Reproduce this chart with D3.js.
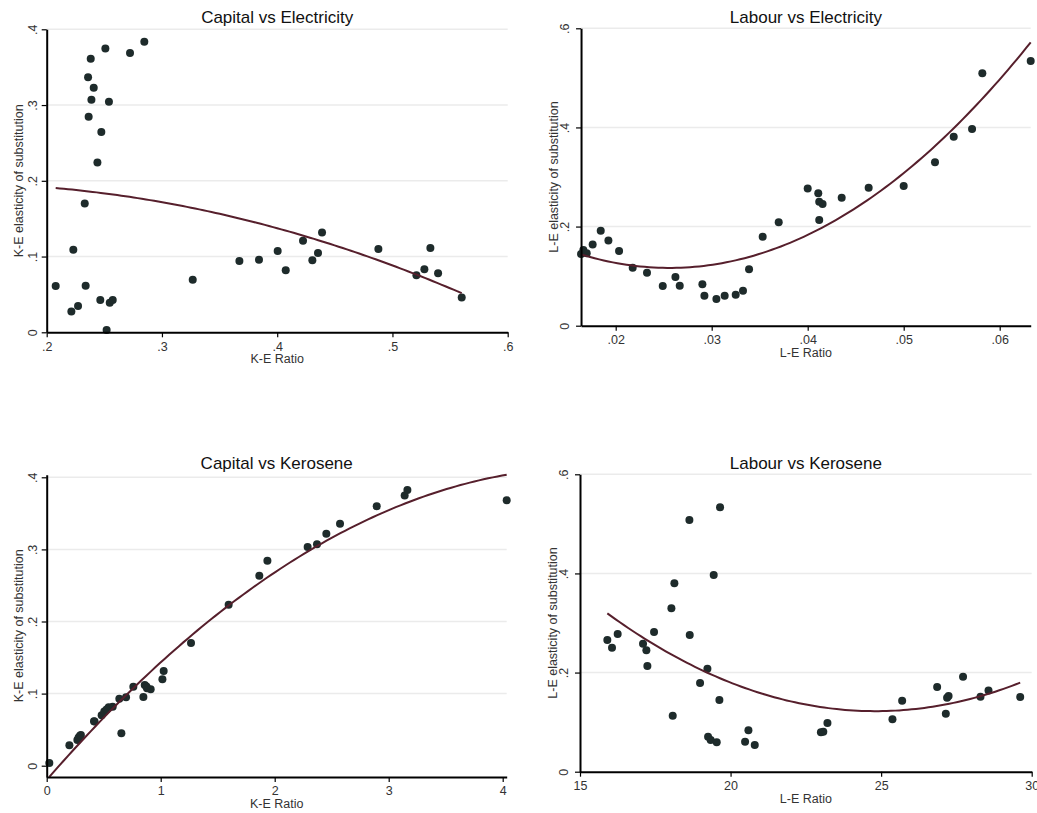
<!DOCTYPE html>
<html>
<head>
<meta charset="utf-8">
<script src="https://cdn.jsdelivr.net/npm/d3@7"></script>
<style>
body { margin: 0; background: #fff; }
svg text { font-family: "Liberation Sans", Arial, sans-serif; }
</style>
</head>
<body>
<div id="chart"></div>
<script>
// Capital vs Electricity
var ke_elec_ratio = [.2078, .2214, .2272, .2231, .2338, .2330, .2465, .2547, .2573, .2520, .2440, .2474,
    .2364, .2388, .2540, .2408, .2359, .2382, .2509, .2723, .2847, .3267, .3672, .3842, .4004, .4074,
    .4224, .4389, .4354, .4305, .4878, .5208, .5277, .5329, .5396, .5601];
var ke_elec_sigma = [.0612, .0273, .0348, .1090, .0616, .1700, .0427, .0390, .0427, .0030, .2240, .2645,
    .2847, .3070, .3045, .3230, .3366, .3610, .3745, .3688, .3837, .0695, .0942, .0959, .1074, .0818,
    .1210, .1316, .1047, .0950, .1100, .0752, .0832, .1113, .0779, .0458];

// Labour vs Electricity
var le_elec_ratio = [.01639, .01663, .01698, .0176, .01844, .01924, .02035, .02177, .02326, .0249, .02622,
    .02667, .02903, .02924, .03049, .03135, .0325, .03326, .03389, .03531, .03698, .0400, .0411, .0412,
    .04155, .0412, .04354, .04635, .0500, .05326, .05521, .05712, .05819, .06323];
var le_elec_sigma = [.1446, .1527, .1460, .1640, .1917, .1720, .1507, .1170, .1070, .0800, .0980,
    .0807, .0834, .0605, .0538, .0605, .0626, .0706, .1137, .1796, .2085, .2770, .2670, .2500,
    .2455, .2130, .2580, .2785, .2818, .3296, .3814, .3968, .5092, .5340];

// Capital vs Kerosene
var ke_kero_ratio = [.023, .199, .269, .292, .415, .482, .544, .579, .637, .696, .655, .760, .848, .860,
    .912, 1.015, 1.026, 1.266, 1.596, 1.865, 1.936, 2.289, 2.371, 2.453, 2.573, 2.895, 3.140, 3.164, 4.035,
    .280, .300, .420, .505, .525, .880, .875];
var ke_kero_sigma = [.0037, .0282, .0356, .0416, .0615, .0698, .0809, .0818, .0930, .0948, .0449, .1096,
    .0953, .1119, .1059, .1198, .1313, .1702, .2234, .2636, .2844, .3033, .3071, .3218, .3357, .3598,
    .3746, .3824, .3681, .0390, .0427, .0612, .0752, .0779, .1074, .1100];

// Labour vs Kerosene
var le_kero_ratio = [15.908, 16.063, 16.251, 17.093, 17.204, 17.237, 17.459, 18.035, 18.134, 18.079,
    18.644, 18.633, 18.987, 19.231, 19.253, 19.34, 19.54, 19.44, 19.651, 19.629, 20.482, 20.593, 20.803,
    23.00, 23.08, 23.217, 25.376, 25.698, 26.86, 27.148, 27.19, 27.24, 27.72, 28.30, 28.566, 29.618];
var le_kero_sigma = [.2657, .2502, .2778, .2583, .2448, .2132, .2818, .3296, .380, .113, .2758, .5078,
    .1789, .2078, .0706, .0639, .0592, .3968, .5334, .1446, .0605, .0834, .0538, .0794, .0807, .0982,
    .1056, .1433, .1708, .117, .1493, .1527, .1917, .1513, .164, .1507];

// tick values and labels
var ke_yticks = [0, .1, .2, .3, .4];
var ke_ytick_labels = ['0', '.1', '.2', '.3', '.4'];
var le_yticks = [0, .2, .4, .6];
var le_ytick_labels = ['0', '.2', '.4', '.6'];
var ke_elec_xticks = [.2, .3, .4, .5, .6];
var ke_elec_xtick_labels = ['.2', '.3', '.4', '.5', '.6'];
var le_elec_xticks = [.02, .03, .04, .05, .06];
var le_elec_xtick_labels = ['.02', '.03', '.04', '.05', '.06'];
var ke_kero_xticks = [0, 1, 2, 3, 4];
var ke_kero_xtick_labels = ['0', '1', '2', '3', '4'];
var le_kero_xticks = [15, 20, 25, 30];
var le_kero_xtick_labels = ['15', '20', '25', '30'];

var svg = d3.select('#chart')
    .append('svg')
    .attr('width', 1037)
    .attr('height', 813);

svg.append('rect')
    .attr('width', 1037)
    .attr('height', 813)
    .style('fill', 'white');

var panels = [
    {title: 'Capital vs Electricity', x_label: 'K-E Ratio', y_label: 'K-E elasticity of substitution',
     xs: ke_elec_ratio, ys: ke_elec_sigma,
     x_ticks: ke_elec_xticks, x_tick_labels: ke_elec_xtick_labels,
     y_ticks: ke_yticks, y_tick_labels: ke_ytick_labels,
     x_px: [46.7, 507.7], y_px: [332.3, 29.3], title_y: 22.7, ytick_off: 10},
    {title: 'Labour vs Electricity', x_label: 'L-E Ratio', y_label: 'L-E elasticity of substitution',
     xs: le_elec_ratio, ys: le_elec_sigma,
     x_ticks: le_elec_xticks, x_tick_labels: le_elec_xtick_labels,
     y_ticks: le_yticks, y_tick_labels: le_ytick_labels,
     x_px: [615.7, 999.7], y_px: [325.7, 28.3], title_y: 22.7, ytick_off: 12.5},
    {title: 'Capital vs Kerosene', x_label: 'K-E Ratio', y_label: 'K-E elasticity of substitution',
     xs: ke_kero_ratio, ys: ke_kero_sigma,
     x_ticks: ke_kero_xticks, x_tick_labels: ke_kero_xtick_labels,
     y_ticks: ke_yticks, y_tick_labels: ke_ytick_labels,
     x_px: [46.7, 502.7], y_px: [765.7, 477.3], title_y: 469, ytick_off: 10},
    {title: 'Labour vs Kerosene', x_label: 'L-E Ratio', y_label: 'L-E elasticity of substitution',
     xs: le_kero_ratio, ys: le_kero_sigma,
     x_ticks: le_kero_xticks, x_tick_labels: le_kero_xtick_labels,
     y_ticks: le_yticks, y_tick_labels: le_ytick_labels,
     x_px: [580, 1031.7], y_px: [771.7, 474.3], title_y: 468.5, ytick_off: 12.5}
];

panels.forEach(function(p) { draw_panel(p); });

// least squares quadratic fit, returns [a, b, c] for a + b x + c x^2
function qfit(xs, ys) {
    var m = [[0, 0, 0, 0], [0, 0, 0, 0], [0, 0, 0, 0]];
    for (var k = 0; k < xs.length; ++k) {
        var pw = [1, xs[k], xs[k] * xs[k]];
        for (var i = 0; i < 3; ++i) {
            for (var j = 0; j < 3; ++j) m[i][j] += pw[i] * pw[j];
            m[i][3] += pw[i] * ys[k];
        }
    }
    // gaussian elimination
    for (var i = 0; i < 3; ++i) {
        for (var r = i + 1; r < 3; ++r) {
            var f = m[r][i] / m[i][i];
            for (var c = i; c < 4; ++c) m[r][c] -= f * m[i][c];
        }
    }
    var coef = [0, 0, 0];
    for (var i = 2; i >= 0; --i) {
        var s = m[i][3];
        for (var j = i + 1; j < 3; ++j) s -= m[i][j] * coef[j];
        coef[i] = s / m[i][i];
    }
    return coef;
}

function draw_panel(p) {
    var coef = qfit(p.xs, p.ys);
    var x_ext = d3.extent(p.xs);
    var fit = d3.range(100).map(function(i) {
        var xv = x_ext[0] + (x_ext[1] - x_ext[0]) * i / 99;
        return [xv, coef[0] + coef[1] * xv + coef[2] * xv * xv];
    });

    // axis range covers ticks, data and fitted line
    var x_dom = [d3.min([p.x_ticks[0], x_ext[0]]), d3.max([p.x_ticks[p.x_ticks.length - 1], x_ext[1]])];
    var fit_y = fit.map(function(d) { return d[1]; });
    var y_dom = [d3.min(p.y_ticks.concat(p.ys, fit_y)), d3.max(p.y_ticks.concat(p.ys, fit_y))];

    var x0 = d3.scaleLinear()
        .domain([p.x_ticks[0], p.x_ticks[p.x_ticks.length - 1]])
        .range(p.x_px);
    var y0 = d3.scaleLinear()
        .domain([p.y_ticks[0], p.y_ticks[p.y_ticks.length - 1]])
        .range(p.y_px);
    var x = d3.scaleLinear().domain(x_dom).range([x0(x_dom[0]), x0(x_dom[1])]);
    var y = d3.scaleLinear().domain(y_dom).range([y0(y_dom[0]), y0(y_dom[1])]);

    var g = svg.append('g');

    //grid lines
    g.selectAll('.grid')
        .data(p.y_ticks.filter(function(d) { return d > 0; }))
        .enter()
        .append('line')
        .attr('x1', x.range()[0])
        .attr('x2', x.range()[1])
        .attr('y1', function(d) { return y(d); })
        .attr('y2', function(d) { return y(d); })
        .style('stroke', '#ebebeb')
        .style('stroke-width', 1.5);

    //scatter points
    g.selectAll('.dot')
        .data(p.xs)
        .enter()
        .append('circle')
        .attr('cx', function(d) { return x(d); })
        .attr('cy', function(d, i) { return y(p.ys[i]); })
        .attr('r', 4)
        .style('fill', '#1e2b2b');

    //fitted quadratic
    g.append('path')
        .datum(fit)
        .attr('d', d3.line()
            .x(function(d) { return x(d[0]); })
            .y(function(d) { return y(d[1]); }))
        .style('fill', 'none')
        .style('stroke', '#561f2c')
        .style('stroke-width', 2);

    var y_base = y.range()[0];
    var x_left = x.range()[0];

    //x axis
    var x_axis = g.append('g')
        .attr('transform', 'translate(0,' + y_base + ')')
        .call(d3.axisBottom(x)
            .tickValues(p.x_ticks)
            .tickFormat(function(d, i) { return p.x_tick_labels[i]; })
            .tickSize(5)
            .tickSizeOuter(0));

    x_axis.selectAll('text')
        .attr('y', 18.5)
        .attr('dy', 0)
        .style('font-size', '12.5px')
        .style('fill', '#333');

    //y axis
    var y_axis = g.append('g')
        .attr('transform', 'translate(' + x_left + ',0)')
        .call(d3.axisLeft(y)
            .tickValues(p.y_ticks)
            .tickFormat(function(d, i) { return p.y_tick_labels[i]; })
            .tickSize(5)
            .tickSizeOuter(0));

    y_axis.selectAll('text')
        .attr('transform', 'rotate(-90)')
        .attr('x', 0)
        .attr('y', -p.ytick_off)
        .attr('dy', 0)
        .style('text-anchor', 'middle')
        .style('font-size', '12.5px')
        .style('fill', '#333');

    g.selectAll('.domain')
        .style('stroke', 'black')
        .style('stroke-width', 2);
    g.selectAll('.tick line')
        .style('stroke', 'black')
        .style('stroke-width', 1.2);

    var x_mid = (x.range()[0] + x.range()[1]) / 2;
    var y_mid = (y.range()[0] + y.range()[1]) / 2;

    //title
    g.append('text')
        .attr('x', x_mid)
        .attr('y', p.title_y)
        .style('text-anchor', 'middle')
        .style('font-size', '17px')
        .style('fill', '#111')
        .text(p.title);

    //x label
    g.append('text')
        .attr('x', x_mid)
        .attr('y', y_base + 31)
        .style('text-anchor', 'middle')
        .style('font-size', '12.5px')
        .style('fill', '#333')
        .text(p.x_label);

    //y label
    g.append('text')
        .attr('transform', 'translate(' + (x_left - 23.5) + ',' + y_mid + ') rotate(-90)')
        .style('text-anchor', 'middle')
        .style('font-size', '12.5px')
        .style('fill', '#333')
        .text(p.y_label);
}
</script>
</body>
</html>
